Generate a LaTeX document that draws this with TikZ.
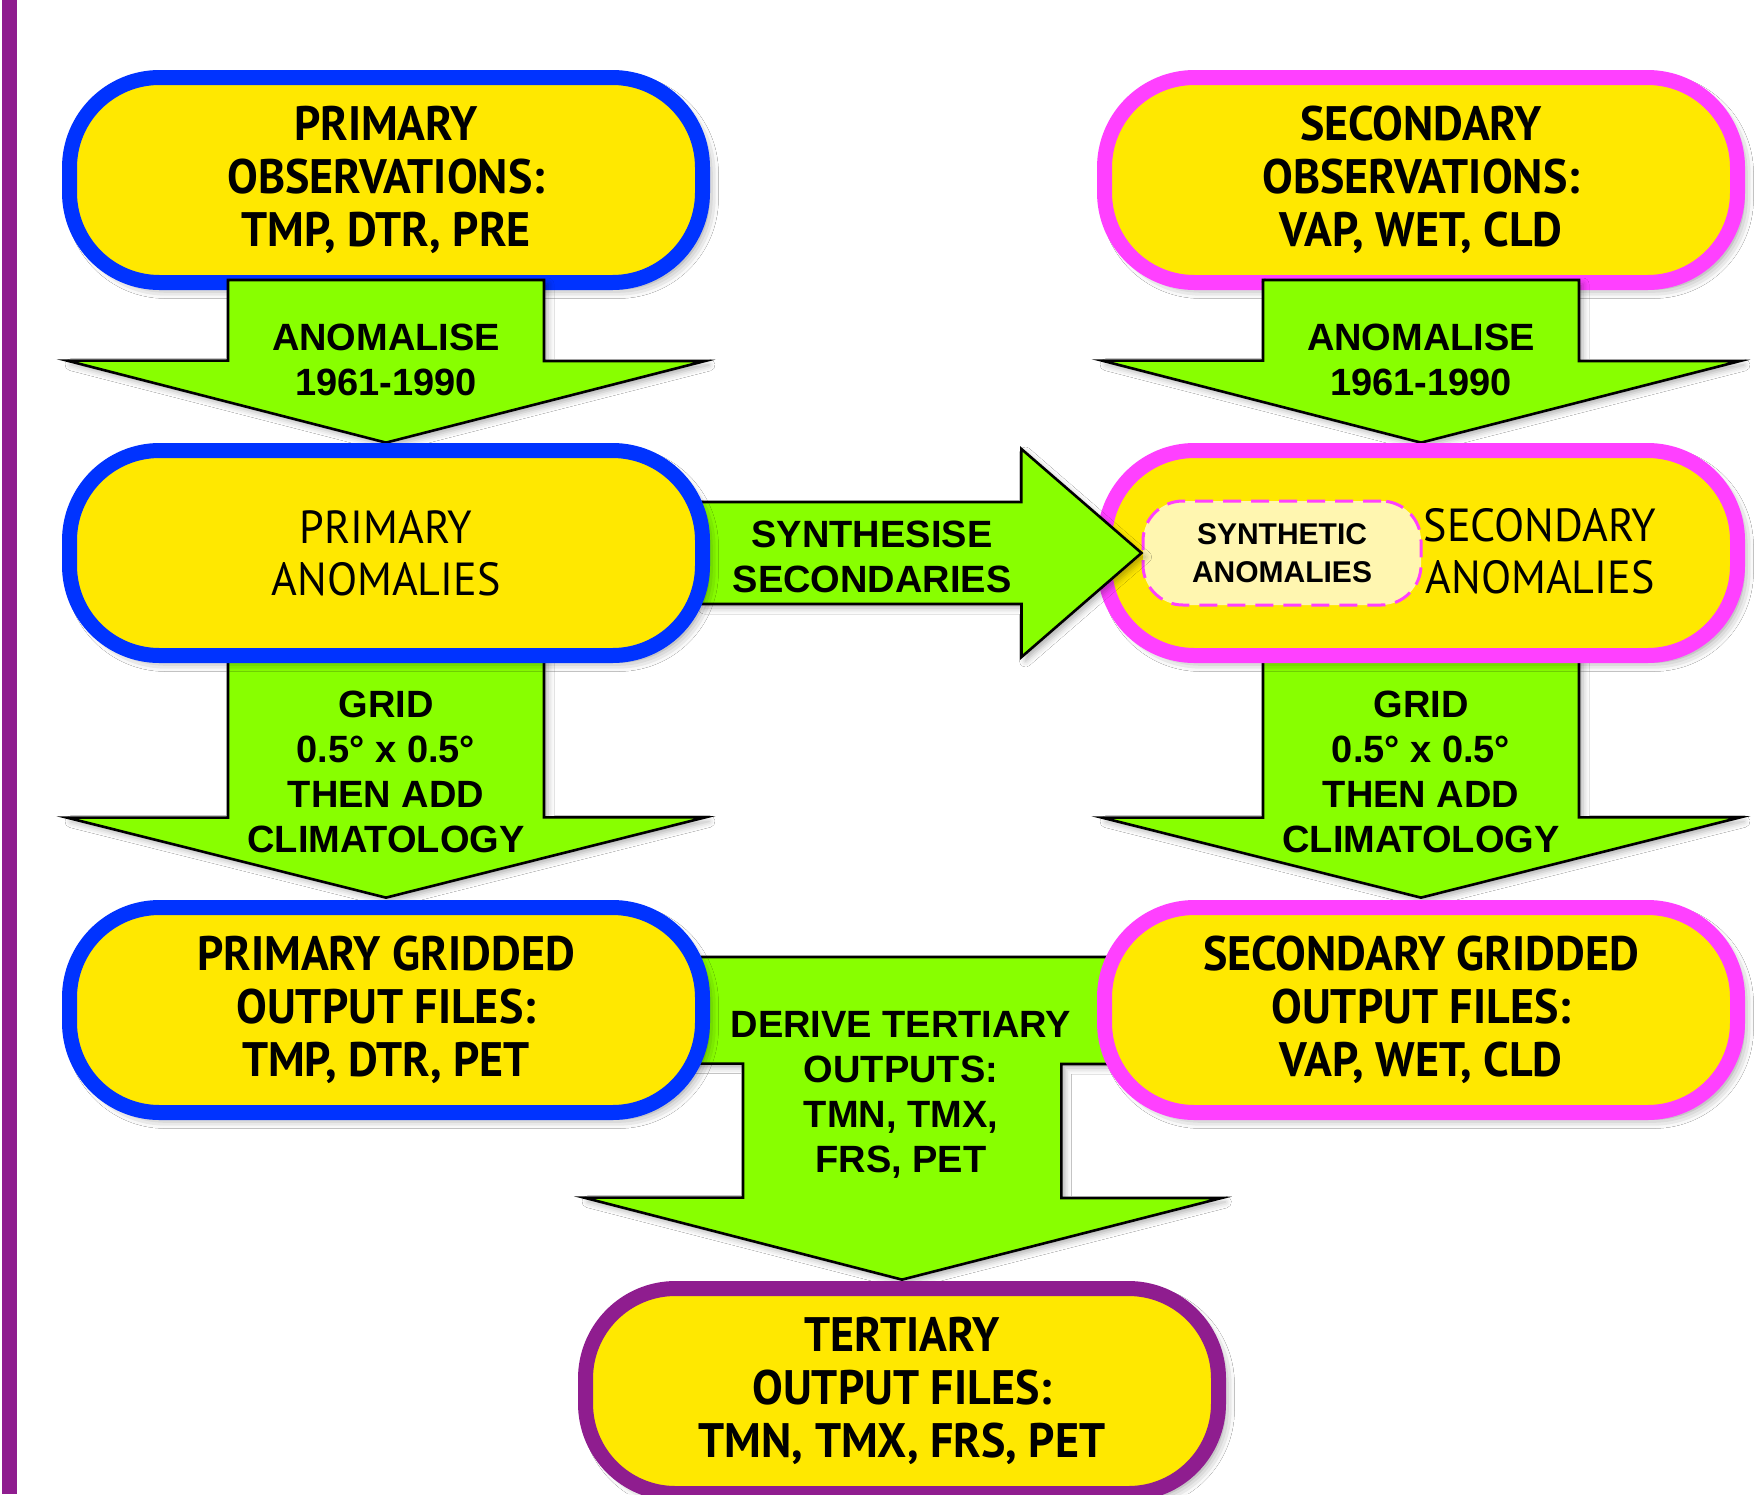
\documentclass[tikz,border=0pt]{standalone}
\usepackage{fontspec}
\setmainfont{Liberation Sans}
\newfontfamily\boxfont[FakeStretch=0.95]{PT Sans}
\usetikzlibrary{calc,positioning,shadows.blur}
\definecolor{boxYellow}{RGB}{255,232,0}
\definecolor{primBlue}{RGB}{0,51,255}
\definecolor{secPink}{RGB}{255,64,255}
\definecolor{tertPurple}{RGB}{143,29,143}
\definecolor{arrowGreen}{RGB}{136,255,0}
\definecolor{synthFill}{RGB}{255,246,176}
\tikzset{
  databox/.style={draw,line width=7.5pt,fill=boxYellow,rounded corners=45pt,
    minimum width=316.5pt,minimum height=102.5pt,align=center,
    font=\boxfont\bfseries\fontsize{24.2}{26.5}\selectfont,
    blur shadow={shadow xshift=3pt,shadow yshift=-3pt,shadow blur radius=5pt,shadow opacity=45}},
  anomtext/.style={font=\boxfont\fontsize{23.2}{26}\selectfont},
  blockarrow/.style={draw=black,line width=1.3pt,fill=arrowGreen,line join=miter,
    blur shadow={shadow xshift=2pt,shadow yshift=-2pt,shadow blur radius=3pt,shadow opacity=30}},
  arrowtext/.style={align=center,font=\bfseries\fontsize{19}{22.5}\selectfont},
  anchorbox/.style={minimum width=324pt,minimum height=110pt,inner sep=0pt},
}
\begin{document}
\begin{tikzpicture}[x=0.5pt,y=-0.5pt]
  \useasboundingbox (0,0) rectangle (1760,1494);
  \fill[white] (0,0) rectangle (1760,1494);
  \fill[tertPurple] (2,0) rectangle (17,1494);% side bar
  % boxes, placed first so that arrows can refer to them
  \path (386,180) node[databox,draw=primBlue] (pobs) {PRIMARY\\OBSERVATIONS:\\TMP, DTR, PRE};
  \path (1421,180) node[databox,draw=secPink] (sobs) {SECONDARY\\OBSERVATIONS:\\VAP, WET, CLD};
  \path (386,553) coordinate (panomc);
  \path (1421,553) coordinate (sanomc);
  \path (386,1010) coordinate (pgridc);
  \path (1421,1010) coordinate (sgridc);
  \path (902,1391) coordinate (tertc);
  % shapes for anchors (drawn later)
  \path (panomc) node[anchorbox] (panom) {};
  \path (sanomc) node[anchorbox] (sanom) {};
  \path (pgridc) node[anchorbox,minimum height=112pt] (pgrid) {};
  \path (sgridc) node[anchorbox,minimum height=112pt] (sgrid) {};
  \path (tertc) node[anchorbox,minimum height=111pt] (tert) {};
  % anomalise arrows
  \draw[blockarrow] ($(pobs.south)+(-158,-10)$) -- ++(316,0) -- ++(0,81) -- ++(161,0)
    -- (panom.north) -- ++(-319,-82) -- ++(161,0) -- cycle;
  \draw[blockarrow] ($(sobs.south)+(-158,-10)$) -- ++(316,0) -- ++(0,81) -- ++(161,0)
    -- (sanom.north) -- ++(-319,-82) -- ++(161,0) -- cycle;
  % grid arrows
  \draw[blockarrow] ($(panom.south)+(-158,-9)$) -- ++(316,0) -- ++(0,163) -- ++(161,0)
    -- (pgrid.north) -- ++(-319,-80) -- ++(161,0) -- cycle;
  \draw[blockarrow] ($(sanom.south)+(-158,-9)$) -- ++(316,0) -- ++(0,163) -- ++(161,0)
    -- (sgrid.north) -- ++(-319,-80) -- ++(161,0) -- cycle;
  % derive arrow
  \draw[blockarrow] ($(pgrid.east)+(-20,-53)$) -- ++(425,0) -- ++(0,107) -- ++(-54,0)
    -- ++(0,134) -- ++(160,0) -- (tert.north) -- ++(-318,-82) -- ++(159,0)
    -- ++(0,-134) -- ++(-53,0) -- cycle;
  \node[databox,draw=secPink] at (sanomc) (sanombox) {};
  \node[draw=secPink,dashed,dash pattern=on 9pt off 5pt,line width=1.5pt,fill=synthFill,
    rounded corners=20pt,minimum width=139pt,minimum height=52pt,inner sep=0pt,align=center,
    font=\bfseries\fontsize{15}{19}\selectfont] (synth) at (1282,553) {SYNTHETIC\\ANOMALIES};
  % synthesise arrow
  \draw[blockarrow] ($(panom.east)+(-10,-51)$) -- ++(321,0) -- ++(0,-53) -- (synth.west)
    -- ++(-120,104) -- ++(0,-53) -- ++(-321,0) -- cycle;
  \node[align=center,anomtext] (sanomtxt) at (1540,551) {SECONDARY\\ANOMALIES};
  \node[databox,draw=primBlue,anomtext] at (panomc) (panombox) {PRIMARY\\ANOMALIES};
  \node[databox,draw=primBlue] at (pgridc) (pgridbox) {PRIMARY GRIDDED\\OUTPUT FILES:\\TMP, DTR, PET};
  \node[databox,draw=secPink] at (sgridc) (sgridbox) {SECONDARY GRIDDED\\OUTPUT FILES:\\VAP, WET, CLD};
  \node[databox,draw=tertPurple] at (tertc) (tertbox) {TERTIARY\\OUTPUT FILES:\\TMN, TMX, FRS, PET};
  % arrow labels
  \node[arrowtext] (anomL) at (386,360) {ANOMALISE\\1961-1990};
  \node[arrowtext] (anomR) at (1421,360) {ANOMALISE\\1961-1990};
  \node[arrowtext] (gridL) at (386,772) {GRID\\0.5° x 0.5°\\THEN ADD\\CLIMATOLOGY};
  \node[arrowtext] (gridR) at (1421,772) {GRID\\0.5° x 0.5°\\THEN ADD\\CLIMATOLOGY};
  \node[arrowtext] (synthlbl) at (872,557) {SYNTHESISE\\SECONDARIES};
  \node[arrowtext] (derive) at (901,1095) {DERIVE TERTIARY\\OUTPUTS:\\TMN, TMX,\\FRS, PET};
\end{tikzpicture}
\end{document}
